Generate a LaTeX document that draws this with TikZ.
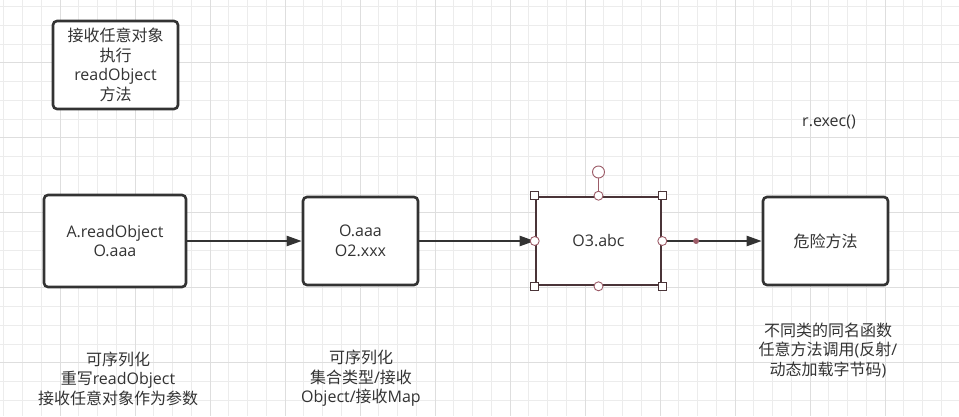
\documentclass[tikz,border=0pt]{standalone}
\usepackage{fontspec}
\setmainfont{Open Sans}
\newfontfamily\zhfont{Noto Sans CJK SC}
\newcommand{\zh}[1]{{\zhfont #1}}
\usetikzlibrary{arrows.meta, positioning, calc}
\definecolor{cink}{HTML}{333333}
\definecolor{cgridmin}{HTML}{ECECEC}
\definecolor{cgridmaj}{HTML}{DEDEDE}
\definecolor{csel}{HTML}{4A3438}
\definecolor{chandle}{HTML}{9C5C68}
\tikzset{
  every picture/.style={x=1pt, y=-1pt, font=\fontsize{16}{19.5}\selectfont},
  box/.style={draw=cink, fill=white, text=cink, rounded corners=4pt, line width=2.6pt, align=center, inner sep=0pt, minimum height=88pt, minimum width=#1},
  box/.default=125pt,
  selbox/.style={box, draw=csel, rounded corners=0pt},
  arrow/.style={-{Triangle[length=15pt, width=10pt]}, draw=cink, line width=2.3pt},
  note/.style={text=cink, align=center, inner sep=0pt},
  gridmin/.style={draw=cgridmin, line width=0.9pt},
  gridmaj/.style={draw=cgridmaj, line width=1pt},
  sqhandle/.style={draw=csel, fill=white, line width=0.9pt},
  rdhandle/.style={draw=chandle, fill=white, line width=0.9pt},
}

\begin{document}
\begin{tikzpicture}
  \useasboundingbox (0,0) rectangle (959,416);
  % grid
  \fill[white] (0,0) rectangle (959,416);
  \begin{scope}
    \clip (0,0) rectangle (959,416);
    \foreach \i in {0,...,51} \draw[gridmin] ({3.75+18.75*\i},0) -- ++(0,416);
    \foreach \j in {0,...,22} \draw[gridmin] (0,{6.45+18.75*\j}) -- ++(959,0);
    \foreach \i in {0,...,12} \draw[gridmaj] ({60+75*\i},0) -- ++(0,416);
    \foreach \j in {0,...,5} \draw[gridmaj] (0,{62.7+75*\j}) -- ++(959,0);
  \end{scope}
  % boxes
  \node[box] (task) at (115.5,65) {\zh{接收任意对象}\\\zh{执行}\\readObject\\\zh{方法}};
  \node[box=142pt, minimum height=92pt] (ra) at (115,241) {A.readObject\\O.aaa};
  \node[box=115pt] (ob) at (360.5,241) {O.aaa\\O2.xxx};
  \node[selbox] (o3) at (598.5,241) {O3.abc};
  \node[box] (danger) at (825.5,241) {\zh{危险方法}};
  % connectors
  \draw[arrow] (ra.east) -- (ob.west);
  \draw[arrow] (ob.east) -- (o3.west);
  \draw[arrow] (o3.east) -- coordinate[pos=0.34] (mid) (danger.west);
  \fill[chandle] (mid) circle (3pt);
  % selection handles
  \coordinate (rot) at (598.5,172);
  \draw[chandle, line width=1.2pt] (rot) -- (o3.north);
  \draw[rdhandle] (rot) circle (6pt);
  \foreach \a in {north west, north east, south west, south east}
    \draw[sqhandle] ($(o3.\a)+(-4,-4)$) rectangle ++(8,8);
  \foreach \a in {north, south, east, west}
    \draw[rdhandle] (o3.\a) circle (4.5pt);
  % notes
  \node[note] (exec) at (829,121.7) {r.exec()};
  \node[note] (noteA) at (118,378.7) {\zh{可序列化}\\\zh{重写}readObject\\\zh{接收任意对象作为参数}};
  \node[note] (noteO) at (361,378.5) {\zh{可序列化}\\\zh{集合类型}/\zh{接收}\\Object/\zh{接收}Map};
  \node[note] (noteD) at (828,350.5) {\zh{不同类的同名函数}\\\zh{任意方法调用}(\zh{反射}/\\\zh{动态加载字节码})};
\end{tikzpicture}
\end{document}
